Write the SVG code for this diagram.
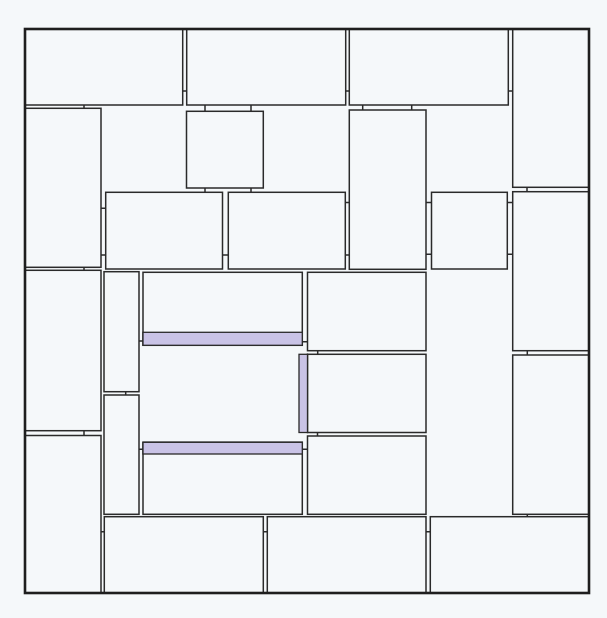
<svg xmlns="http://www.w3.org/2000/svg" width="607" height="618" viewBox="0 0 607 618">
<style>
.room{fill:#f5f8fa;stroke:#2a2a2a;stroke-width:1.5}
.bar{fill:#c9c3e6;stroke:#2a2a2a;stroke-width:1.3}
.door{stroke:#2a2a2a;stroke-width:1.5;fill:none}
.outer{fill:none;stroke:#1e1e1e;stroke-width:2.6}
</style>
<rect width="607" height="618" fill="#f5f8fa"/>
<g id="rooms">
<g id="A"><rect class="room" x="25" y="29" width="157.7" height="76"/></g>
<g id="B"><rect class="room" x="186.7" y="29" width="159" height="76"/></g>
<g id="C"><rect class="room" x="349.3" y="29" width="159" height="76"/></g>
<g id="D"><rect class="room" x="512.7" y="29" width="76.3" height="158.3"/></g>
<g id="E"><rect class="room" x="25" y="108.3" width="76" height="159"/></g>
<g id="F"><rect class="room" x="186.5" y="111.3" width="76.8" height="76.7"/></g>
<g id="G"><rect class="room" x="349.3" y="110" width="76.7" height="159.3"/></g>
<g id="H"><rect class="room" x="105.7" y="192.3" width="116.8" height="76.7"/></g>
<g id="I"><rect class="room" x="228.3" y="192.3" width="117" height="76.7"/></g>
<g id="J"><rect class="room" x="431.5" y="192.3" width="75.8" height="76.7"/></g>
<g id="K"><rect class="room" x="512.7" y="191.7" width="76.3" height="159"/></g>
<g id="L"><rect class="room" x="25" y="270.3" width="76" height="160.4"/></g>
<g id="M"><rect class="room" x="104" y="271.7" width="35" height="120"/></g>
<g id="N"><rect class="room" x="143" y="272.3" width="159.3" height="73"/><rect class="bar" x="143" y="332.3" width="159.3" height="13"/></g>
<g id="O"><rect class="room" x="307.5" y="272.3" width="118.5" height="78.4"/></g>
<g id="Q"><rect class="room" x="307.5" y="354.3" width="118.5" height="78.2"/><rect class="bar" x="299" y="354.3" width="8.5" height="78.2"/></g>
<g id="R"><rect class="room" x="512.7" y="355" width="76.3" height="159.3"/></g>
<g id="S"><rect class="room" x="25" y="435.5" width="76" height="157.5"/></g>
<g id="T"><rect class="room" x="104" y="395" width="35" height="119.3"/></g>
<g id="U"><rect class="room" x="143" y="442.3" width="159.3" height="72"/><rect class="bar" x="143" y="442.3" width="159.3" height="11.7"/></g>
<g id="V"><rect class="room" x="307.5" y="436" width="118.5" height="78.3"/></g>
<g id="W"><rect class="room" x="104.3" y="516.7" width="159" height="76.3"/></g>
<g id="X"><rect class="room" x="267.3" y="516.7" width="158.7" height="76.3"/></g>
<g id="Y"><rect class="room" x="430.3" y="516.7" width="158.7" height="76.3"/></g>
</g>
<rect class="outer" x="25" y="29" width="564" height="564"/>
<g id="doors" class="door">
<path d="M84 105V108.3M182.7 91H186.7M345.7 91H349.3M508.3 91H512.7"/>
<path d="M205 105V111.3M251 105V111.3M362.7 105V110M411.7 105V110"/>
<path d="M205 188V192.3M251 188V192.3"/>
<path d="M101 208.3H105.7M101 255H105.7M222.5 255H228.3M345.3 202.5H349.3M345.3 255H349.3"/>
<path d="M426 202.5H431.5M426 254.3H431.5M507.3 202.5H512.7M507.3 254.3H512.7"/>
<path d="M527 187.3V191.7M84 267.3V270.3"/>
<path d="M139 341H143M302.3 341.7H307.5M317.7 350.7V354.3M317.5 432.5V436M125.7 391.7V395"/>
<path d="M84 430.7V435.5M139 449.3H143M302.3 449.3H307.5"/>
<path d="M101 531.7H104.3M263.3 531.7H267.3M426 531.7H430.3M527.3 350.7V355M527.3 514.3V516.7"/>
</g>
</svg>
